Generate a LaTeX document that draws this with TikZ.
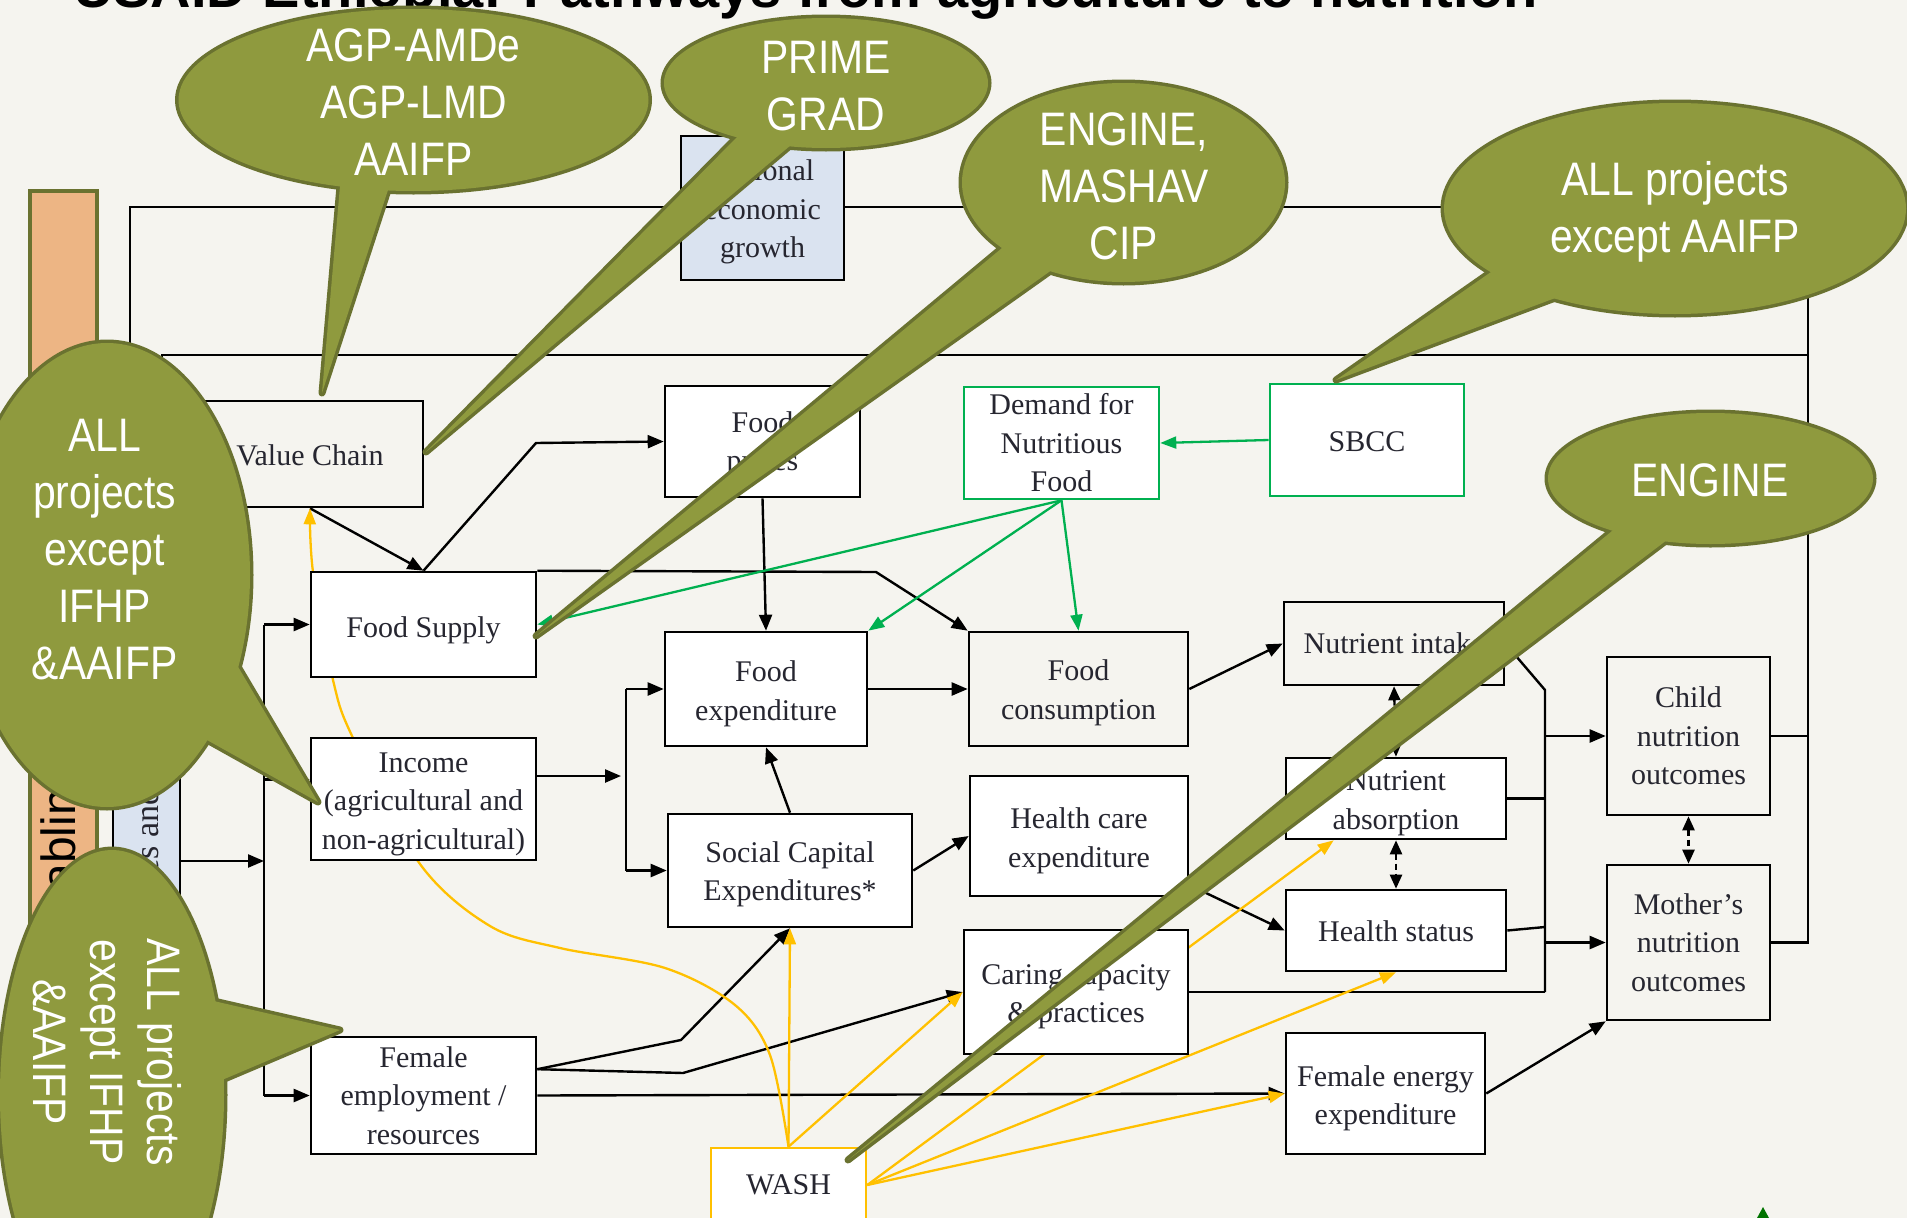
\documentclass[tikz,border=0pt]{standalone}
\usepackage{fontspec}
\setmainfont{Liberation Serif}
\newfontfamily\calloutfont[FakeStretch=0.87]{Liberation Sans}
\newfontfamily\sansfont{Liberation Sans}
\usetikzlibrary{arrows.meta,calc}
\definecolor{bgc}{RGB}{245,244,239}
\definecolor{olivefill}{RGB}{143,154,62}
\definecolor{olivedark}{RGB}{106,114,48}
\definecolor{orangebar}{RGB}{237,181,132}
\definecolor{lblue}{RGB}{218,227,240}
\definecolor{greenc}{RGB}{0,176,80}
\definecolor{yelc}{RGB}{255,192,0}
\definecolor{txtc}{RGB}{38,38,48}
\pgfdeclarelayer{bglayer}
\pgfdeclarelayer{linelayer}
\pgfdeclarelayer{frontlayer}
\pgfsetlayers{bglayer,linelayer,main,frontlayer}
% cx, cy, rx, ry, exitA, exitB, tip
\newcommand{\olivecallout}[7]{%
  \path[draw=olivedark, line width=7pt] (#1,#2) ellipse [x radius=#3pt, y radius=#4pt];
  \path[draw=olivedark, line width=7pt, line join=round] ($(#5)!-40pt!(#7)$) -- (#7) -- ($(#6)!-40pt!(#7)$) -- cycle;
  \path[fill=olivefill] (#1,#2) ellipse [x radius=#3pt, y radius=#4pt];
  \path[fill=olivefill] ($(#5)!-40pt!(#7)$) -- (#7) -- ($(#6)!-40pt!(#7)$) -- cycle;
}
% style, width, height, name, position, text shift down, text
\newcommand{\dbox}[7]{%
  \node[#1, minimum width=#2pt, minimum height=#3pt] (#4) at (#5) {};
  \node[boxtext] (#4-t) at ($(#4.center)+(0,#6)$) {#7};
}
\begin{document}
\begin{tikzpicture}[x=1pt,y=-1pt,
  mybox/.style={draw=black, line width=2.6pt, fill=white, inner sep=0pt},
  gbox/.style={mybox, draw=greenc},
  ybox/.style={mybox, draw=yelc},
  boxtext/.style={text=txtc, align=center, inner sep=0pt, font=\fontsize{30}{38.5}\selectfont},
  conn/.style={draw=black, line width=2.4pt},
  arr/.style={conn, -{Triangle[length=16pt,width=13pt]}},
  dbl/.style={conn, dash pattern=on 6pt off 4pt, {Triangle[length=14pt,width=12pt]}-{Triangle[length=14pt,width=12pt]}},
  garr/.style={draw=greenc, line width=2.3pt, -{Triangle[length=16pt,width=12pt]}},
  yarr/.style={draw=yelc, line width=2.3pt, -{Triangle[length=16pt,width=12pt]}},
  ctext/.style={text=white, align=center, inner sep=0pt, font=\calloutfont\fontsize{47}{57}\selectfont}
]
\useasboundingbox (0,0) rectangle (1907,1218);
\begin{pgfonlayer}{bglayer}
  \fill[bgc] (0,0) rectangle (1907,1218);
\end{pgfonlayer}

% title (cut at top)
\node[anchor=base west, inner sep=0pt, font=\sansfont\bfseries\fontsize{56}{60}\selectfont] (title) at (73,7) {USAID Ethiopia: Pathways from agriculture to nutrition};

% left bars
\node[draw=olivedark, line width=4.5pt, fill=orangebar, minimum width=67pt, minimum height=1039pt, inner sep=0pt] (enab) at (63.5,710.5) {};
\node[rotate=90, inner sep=0pt, font=\sansfont\fontsize{48}{52}\selectfont] (enabtext) at (63.5,717) {Enabling environment};
\node[draw=black, line width=2.6pt, fill=lblue, minimum width=67pt, minimum height=670pt, inner sep=0pt] (pol) at (146.5,895) {};
\node[rotate=90, inner sep=0pt, text=txtc, font=\fontsize{34}{38}\selectfont] (poltext) at (146.5,791.5) {Policies and institutions};

% boxes
\dbox{mybox, fill=lblue}{163}{144}{neg}{762.5,208}{4}{National\\economic\\growth}
\dbox{mybox, fill=bgc}{226}{106}{vc}{310,454}{1}{Value Chain}
\dbox{mybox}{195}{111}{fp}{762.5,441.5}{3}{Food\\prices}
\dbox{gbox}{195}{112}{dem}{1061.5,443}{0}{Demand for\\Nutritious\\Food}
\dbox{gbox}{194}{112}{sbcc}{1367,440}{2}{SBCC}
\dbox{mybox}{225}{105}{fs}{423.5,624.5}{6}{Food Supply}
\dbox{mybox}{202}{114}{fe}{766,689}{5}{Food\\expenditure}
\dbox{mybox, fill=bgc}{219}{114}{fc}{1078.5,689}{4}{Food\\consumption}
\dbox{mybox, fill=bgc}{220}{83}{ni}{1394,643.5}{0}{Nutrient intake}
\dbox{mybox}{220}{81}{na}{1396,798.5}{5}{Nutrient\\absorption}
\dbox{mybox}{220}{81}{hs}{1396,930.5}{1}{Health status}
\dbox{mybox, fill=bgc}{163}{158}{cno}{1688.5,736}{0}{Child\\nutrition\\outcomes}
\dbox{mybox, fill=bgc}{163}{155}{mno}{1688.5,942.5}{0}{Mother’s\\nutrition\\outcomes}
\dbox{mybox}{225}{122}{inc}{423.5,799}{5}{Income\\(agricultural and\\non-agricultural)}
\dbox{mybox}{244}{113}{sce}{790,870.5}{4}{Social Capital\\Expenditures*}
\dbox{mybox}{218}{120}{hce}{1079,836}{5}{Health care\\expenditure}
\dbox{mybox}{224}{124}{ccp}{1076,992}{5}{Caring capacity\\\& practices}
\dbox{mybox}{225}{117}{fer}{423.5,1095.5}{0}{Female\\employment /\\resources}
\dbox{mybox}{199}{121}{fee}{1385.5,1093.5}{5}{Female energy\\expenditure}
\dbox{ybox}{155}{74}{wash}{788.5,1185}{0}{WASH}

\begin{pgfonlayer}{linelayer}
  \coordinate (vtop) at (264,624.5);
  \coordinate (vbot) at (264,1095.5);
  \coordinate (vpol) at (264,861);
  \coordinate (vinc) at (264,779.5);
  \coordinate (binc) at (621,776);
  \coordinate (bx1) at (626,689);
  \coordinate (bx2) at (626,870.5);
  \coordinate (cx1) at (1545,690);
  \coordinate (cx2) at (1545,992);
  \coordinate (hsj) at (1545,927);
  \coordinate (rx) at (1808,207);
  \coordinate (l1) at (130,207);
  \coordinate (l2) at (162,355);
  \coordinate (fsk) at (536,443);
  \coordinate (fck) at (876,572);
  \coordinate (fek1) at (681,1040);
  \coordinate (fek2) at (683,1073);
  \coordinate (ferout) at ($(fer.north east)!0.28!(fer.south east)$);
  \coordinate (hceout) at ($(hce.north east)!0.9!(hce.south east)$);
  \coordinate (nain) at ($(na.south west)!0.22!(na.south east)$);

  % feedback loops
  \draw[arr] (mno.east) -- (mno.east -| rx) -- (rx) -- (l1) -- (l1 |- pol.north);
  \draw[conn] (cno.east) -- (cno.east -| rx);
  \draw[arr] (rx |- l2) -- (l2) -- (l2 |- pol.north);

  % distribution from policies
  \draw[conn] (vtop) -- (vbot);
  \draw[arr] (vpol -| pol.east) -- (vpol);
  \draw[arr] (vtop) -- (fs.west);
  \draw[arr] (vbot) -- (fer.west);
  \draw[arr] (vinc) -- (vinc -| inc.west);

  % food pathway
  \draw[arr] (vc.south) -- (fs.north);
  \draw[arr] (fs.north) -- (fsk) -- (fp.west);
  \draw[arr] (fs.north east) -- (fck) -- (fc.north west);
  \draw[arr] (fp.south) -- (fe.north);
  \draw[arr] (fe.east) -- (fc.west);
  \draw[arr] (fc.east) -- (ni.west);

  % income pathway
  \draw[arr] (binc -| inc.east) -- (binc);
  \draw[conn] (bx1) -- (bx2);
  \draw[arr] (bx1) -- (fe.west);
  \draw[arr] (bx2) -- (sce.west);
  \draw[arr] (sce.north) -- (fe.south);
  \draw[arr] (sce.east) -- (hce.west);
  \draw[arr] (hceout) -- (hs.west);

  % female pathway
  \draw[arr] (ferout) -- (fek1) -- (sce.south);
  \draw[arr] (ferout) -- (fek2) -- (ccp.west);
  \draw[arr] (fer.east) -- (fee.west);
  \draw[arr] (fee.east) -- (mno.south west);

  % nutrition collector
  \draw[conn] (ni.east) -- (cx1) -- (cx2);
  \draw[conn] (ccp.east) -- (ccp.east -| cx2);
  \draw[conn] (na.east) -- (na.east -| cx2);
  \draw[conn] (hs.east) -- (hsj);
  \draw[arr] (cno.west -| cx1) -- (cno.west);
  \draw[arr] (mno.west -| cx1) -- (mno.west);

  % two-way dashed
  \draw[dbl] (ni.south) -- (na.north);
  \draw[dbl] (na.south) -- (hs.north);
  \draw[dbl] (cno.south) -- (mno.north);

  % green (SBCC)
  \draw[garr] (sbcc.west) -- (dem.east);
  \draw[garr] (dem.south) -- (fs.east);
  \draw[garr] (dem.south) -- (fe.north east);
  \draw[garr] (dem.south) -- (fc.north);

  % yellow (WASH)
  \draw[yarr] (wash.north) -- (sce.south);
  \draw[yarr] (wash.north) -- (ccp.west);
  \draw[yarr] (wash.east) -- (nain);
  \draw[yarr] (wash.east) -- (hs.south);
  \draw[yarr] (wash.east) -- (fee.west);
  \draw[yarr] plot[smooth, tension=0.55] coordinates {(wash.north) (770,1055) (735,1005) (665,968) (560,948) (490,926) (420,864) (353,738) (333,680) (313,572) (vc.south)};
\end{pgfonlayer}

\begin{pgfonlayer}{frontlayer}
  \olivecallout{413.5}{100}{235}{91}{340,186}{388,190}{322,393}
  \node[ctext] (c1) at (413.5,101.7) {AGP-AMDe\\AGP-LMD\\AAIFP};
  \olivecallout{826}{83}{162}{65}{737,137}{791,145}{426,452}
  \node[ctext] (c2) at (826,86) {PRIME\\GRAD};
  \olivecallout{1123.5}{182.5}{161.5}{99.5}{1002,248}{1049,272}{536,636}
  \node[ctext] (c3) at (1124,186) {ENGINE,\\MASHAV\\CIP};
  \olivecallout{1675}{208.5}{231}{105.5}{1491,272}{1558,297}{1336,380}
  \node[ctext] (c4) at (1675,212) {ALL projects\\except AAIFP};
  \olivecallout{1710.5}{478.5}{162.5}{65.5}{1612,531}{1667,540}{848,1160}
  \node[ctext] (c5) at (1710,480) {ENGINE};
  \olivecallout{107}{575}{143}{232}{237,665}{207,740}{318,802}
  \node[ctext] (c6) at (104.6,549.5) {ALL\\projects\\except\\IFHP\\\&AAIFP};
  \olivecallout{112}{1095}{112}{245}{218,1002}{222,1080}{340,1030}
  \node[ctext, rotate=-90] (c7) at (107,1052) {ALL projects\\except IFHP\\\&AAIFP};
  \fill[green!45!black] (1757,1218) -- (1763,1207) -- (1769,1218) -- cycle;
\end{pgfonlayer}
\end{tikzpicture}
\end{document}
